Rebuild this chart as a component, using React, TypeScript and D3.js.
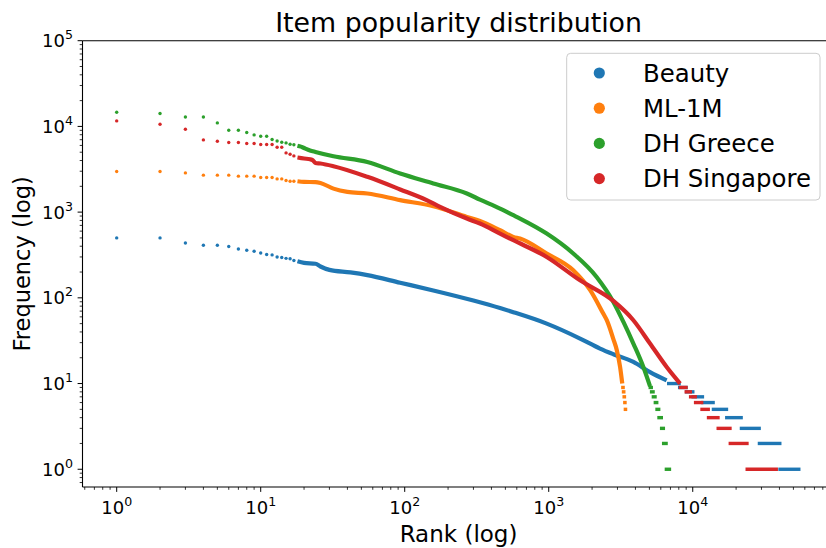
import React from 'react';
import * as d3 from 'd3';

const W = 826;
const H = 548;
const FONT = '"DejaVu Sans", sans-serif';

const seriesNames = ['Beauty', 'ML-1M', 'DH Greece', 'DH Singapore'];
const colors = ['#1f77b4', '#ff7f0e', '#2ca02c', '#d62728'];

// first ranks are drawn as single dots
const headRanks = [1, 2, 3, 4, 5, 6, 7, 8, 9, 10, 11, 12, 13, 14, 15, 16, 17];
const beautyHead = [500, 500, 437, 411, 411, 397, 372, 359, 349, 334, 320, 317, 300, 296, 289, 286, 273];
const mlHead = [2980, 2980, 2870, 2700, 2700, 2700, 2630, 2630, 2630, 2530, 2530, 2530, 2440, 2440, 2340, 2290, 2290];
const greeceHead = [14650, 14130, 12900, 12900, 10990, 9030, 9030, 8490, 7960, 7690, 7690, 7030, 6770, 6540, 6420, 6200, 6110];
const singaporeHead = [11590, 10610, 9270, 6960, 6710, 6480, 6480, 6310, 6310, 6150, 6150, 6150, 5720, 5720, 4910, 4740, 4530];

// dense part, [rank, frequency]
const beautyBody = [[18, 267], [20, 256], [24, 250], [26, 232], [30, 212], [42, 198], [55, 184], [93, 150], [158, 122], [300, 93], [459, 76], [568, 68], [968, 50], [1650, 33.5], [2270, 25.6], [2810, 22], [3870, 17.9], [5050, 13.6], [6590, 10.9]];
const mlBody = [[18, 2290], [20, 2250], [24, 2240], [26, 2190], [32, 1880], [40, 1720], [55, 1650], [93, 1380], [158, 1170], [270, 879], [333, 789], [459, 615], [568, 514], [632, 492], [968, 329], [1480, 210], [1940, 123], [2390, 65.6], [2530, 54.8], [2810, 33], [2970, 24.5], [3130, 15.6], [3240, 10]];
const greeceBody = [[18, 5960], [19, 5810], [20, 5600], [22, 5250], [24, 5040], [32, 4490], [55, 3850], [93, 2820], [158, 2160], [270, 1650], [333, 1400], [459, 1100], [568, 920], [632, 841], [968, 562], [1480, 329], [2150, 175], [2810, 89.6], [3300, 52.4], [3870, 29.3], [4540, 15.6], [5050, 9.3]];
const singaporeBody = [[18, 4340], [20, 4220], [22, 4140], [23, 4030], [24, 3750], [26, 3690], [32, 3430], [55, 2580], [93, 1840], [142, 1380], [176, 1150], [270, 841], [333, 736], [459, 562], [568, 470], [968, 300], [1650, 160], [2810, 92], [3870, 54.8], [5050, 29.3], [6590, 15.6], [8170, 10]];

// tail plateaus, [frequency, first rank, last rank]
const beautySteps = [[10, 6800, 8050], [9, 8100, 9000], [8, 9050, 10020], [7, 10050, 11690], [6, 11720, 13870], [5, 13900, 17170], [4, 17200, 21710], [3, 21750, 28960], [2, 29000, 40270], [1, 40300, 54570]];
const mlSteps = [[9, 3265, 3290], [8, 3300, 3325], [7, 3335, 3360], [6, 3370, 3390], [5, 3400, 3420]];
const greeceSteps = [[9, 5060, 5160], [8, 5170, 5310], [7, 5320, 5480], [6, 5490, 5630], [5, 5640, 5810], [4, 5820, 6060], [3, 6070, 6260], [2, 6270, 6540], [1, 6550, 6900]];
const singaporeSteps = [[9, 8200, 8990], [8, 9000, 9630], [7, 9650, 10420], [6, 10450, 11550], [5, 11580, 12830], [4, 12850, 14990], [3, 15000, 18160], [2, 18200, 23830], [1, 23850, 38070]];

const xMajor = [1, 10, 100, 1000, 10000];
const yMajor = [1, 10, 100, 1000, 10000, 100000];

const series = [
  { head: beautyHead, body: beautyBody, steps: beautySteps },
  { head: mlHead, body: mlBody, steps: mlSteps },
  { head: greeceHead, body: greeceBody, steps: greeceSteps },
  { head: singaporeHead, body: singaporeBody, steps: singaporeSteps },
];

const left = 82.5, right = 834.6, top = 40.7, bottom = 487;

const xScale = d3.scaleLog()
  .domain([Math.pow(10, -0.2374), Math.pow(10, 4.985)])
  .range([left, right]);
const yScale = d3.scaleLog()
  .domain([Math.pow(10, -0.207), 1e5])
  .range([bottom, top]);

const minorTicks = (scale: any) => {
  const [a, b] = scale.domain();
  const out: number[] = [];
  for (let e = -1; e <= 5; e++) {
    for (let m = 2; m <= 9; m++) {
      const v = m * Math.pow(10, e);
      if (v >= a && v <= b) out.push(v);
    }
  }
  return out;
};

const line = d3.line<number[]>()
  .x((d) => xScale(d[0]))
  .y((d) => yScale(d[1]))
  .curve(d3.curveMonotoneX);

const Pow = ({ x, y, exp, anchor }: any) => (
  <text x={x} y={y} textAnchor={anchor} fontFamily={FONT} fontSize={18} fill="#000">
    <tspan>10</tspan>
    <tspan dy={-8} fontSize={12.6}>{exp}</tspan>
  </text>
);

export default function App() {
  return (
    <svg width={W} height={H} style={{ position: 'absolute', left: 0, top: 0, background: '#fff' }}>
      <rect x={0} y={0} width={W} height={H} fill="#fff" />

      {series.map((s, i) => (
        <g key={seriesNames[i]} fill={colors[i]} stroke={colors[i]}>
          {s.head.map((f, j) => (
            <circle key={j} cx={xScale(headRanks[j])} cy={yScale(f)} r={1.7} stroke="none" />
          ))}
          <path d={line(s.body) || ''} fill="none" strokeWidth={4.2} strokeLinejoin="round" />
          {s.steps.map((st, j) => (
            <line key={j}
              x1={xScale(st[1]) - 1.6} x2={xScale(st[2]) + 1.6}
              y1={yScale(st[0])} y2={yScale(st[0])}
              strokeWidth={3.4} />
          ))}
        </g>
      ))}

      {/* spines */}
      <g stroke="#000" strokeWidth={1.1} fill="none">
        <line x1={left} x2={left} y1={top} y2={bottom} />
        <line x1={left} x2={right} y1={bottom} y2={bottom} />
        <line x1={left} x2={right} y1={top} y2={top} />
        <line x1={right} x2={right} y1={top} y2={bottom} />
      </g>

      {/* ticks */}
      <g stroke="#000" strokeWidth={1}>
        {xMajor.map((v) => (
          <line key={'xM' + v} x1={xScale(v)} x2={xScale(v)} y1={bottom} y2={bottom + 4.9} />
        ))}
        {minorTicks(xScale).map((v) => (
          <line key={'xm' + v} x1={xScale(v)} x2={xScale(v)} y1={bottom} y2={bottom + 2.8} strokeWidth={0.8} />
        ))}
        {yMajor.map((v) => (
          <line key={'yM' + v} x1={left} x2={left - 4.9} y1={yScale(v)} y2={yScale(v)} />
        ))}
        {minorTicks(yScale).map((v) => (
          <line key={'ym' + v} x1={left} x2={left - 2.8} y1={yScale(v)} y2={yScale(v)} strokeWidth={0.8} />
        ))}
      </g>
      {xMajor.map((v, i) => (
        <Pow key={'xl' + v} x={xScale(v)} y={514} exp={i} anchor="middle" />
      ))}
      {yMajor.map((v, i) => (
        <Pow key={'yl' + v} x={73} y={yScale(v) + 6.5} exp={i} anchor="end" />
      ))}

      {/* labels */}
      <text x={(left + right) / 2} y={31.5} textAnchor="middle" fontFamily={FONT} fontSize={26.8}>
        Item popularity distribution
      </text>
      <text x={(left + right) / 2} y={541.5} textAnchor="middle" fontFamily={FONT} fontSize={23}>
        Rank (log)
      </text>
      <text transform={`translate(30,${(top + bottom) / 2}) rotate(-90)`} textAnchor="middle"
        fontFamily={FONT} fontSize={22.5}>
        Frequency (log)
      </text>

      {/* legend */}
      <rect x={566.7} y={53.3} width={253.3} height={146.7} rx={4}
        fill="#fff" fillOpacity={0.8} stroke="#cccccc" strokeWidth={1} />
      {seriesNames.map((name, i) => (
        <g key={name}>
          <circle cx={599.3} cy={73 + i * 35.2} r={5.6} fill={colors[i]} />
          <text x={643} y={73 + i * 35.2 + 8.5} fontFamily={FONT} fontSize={24.4} fill="#000">{name}</text>
        </g>
      ))}
    </svg>
  );
}
